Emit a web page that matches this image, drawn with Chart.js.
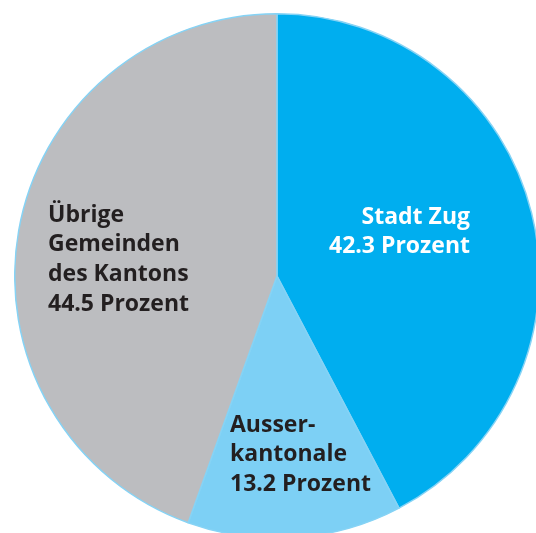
<!DOCTYPE html>
<html>
<head>
<meta charset="utf-8">
<script src="https://cdn.jsdelivr.net/npm/chart.js@4"></script>
<style>
  html, body { margin: 0; padding: 0; background: #fff; overflow: hidden; width: 536px; height: 533px; }
  #wrap { position: absolute; left: 14px; top: 13px; width: 526px; height: 526px; }
</style>
</head>
<body>
<div id="wrap"><canvas id="chart" width="526" height="526"></canvas></div>
<script>
const categories = ['Stadt Zug', 'Ausserkantonale', 'Übrige Gemeinden des Kantons'];
const shares = [42.3, 13.2, 44.5];
const labelLines = [
    ['Stadt Zug', '42.3 Prozent'],
    ['Ausser-', 'kantonale', '13.2 Prozent'],
    ['Übrige', 'Gemeinden', 'des Kantons', '44.5 Prozent']
];
const sliceColors = ['#00AEEF', '#7DD0F5', '#BCBDC0'];

// where each label block sits, relative to the canvas
const labelStyle = [
    { x: 456, y: 204, align: 'right', color: '#ffffff' },
    { x: 216, y: 412, align: 'left', color: '#231F20' },
    { x: 34, y: 202, align: 'left', color: '#231F20' }
];

const sliceLabels = {
    id: 'sliceLabels',
    afterDatasetsDraw: (chart) => {
        const ctx = chart.ctx;
        ctx.save();
        ctx.font = 'bold 23px "Open Sans"';
        ctx.textBaseline = 'middle';
        labelLines.forEach((lines, i) => {
            const s = labelStyle[i];
            ctx.fillStyle = s.color;
            ctx.textAlign = s.align;
            lines.forEach((line, j) => ctx.fillText(line, s.x, s.y + j * 29.7));
        });
        ctx.restore();
    }
};

new Chart(document.getElementById('chart'), {
    type: 'pie',
    data: {
        labels: categories,
        datasets: [{
            data: shares,
            backgroundColor: sliceColors,
            borderColor: '#86D3F5',
            borderWidth: 1.5
        }]
    },
    options: {
        responsive: false,
        animation: false,
        layout: { padding: 0 },
        plugins: { legend: { display: false }, tooltip: { enabled: false } }
    },
    plugins: [sliceLabels]
});
</script>
</body>
</html>
